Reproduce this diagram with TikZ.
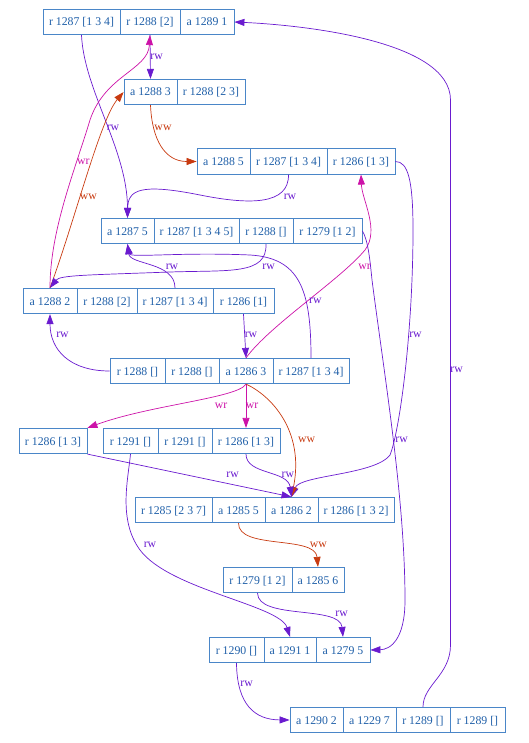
\documentclass[tikz,border=0pt]{standalone}
\usepackage{fontspec}
\setmainfont{Liberation Serif}
\usetikzlibrary{arrows.meta}
\definecolor{txtc}{HTML}{1F5FA8}
\definecolor{boxc}{HTML}{4A86C8}
\definecolor{rwc}{HTML}{6A1BCF}
\definecolor{wrc}{HTML}{CC12A8}
\definecolor{wwc}{HTML}{C83A10}
\tikzset{
  fld/.style={draw=boxc, line width=0.8pt, minimum height=25.4pt, inner sep=0pt,
    text=txtc, font=\fontsize{11.8}{14}\selectfont, text height=8pt, text depth=0pt},
  lbl/.style={inner sep=0pt, font=\fontsize{11.8}{14}\selectfont},
  erw/.style={draw=rwc, line width=0.7pt, -{Triangle[length=10pt,width=7pt]}},
  ewr/.style={draw=wrc, line width=0.7pt, -{Triangle[length=10pt,width=7pt]}},
  eww/.style={draw=wwc, line width=0.7pt, -{Triangle[length=10pt,width=7pt]}},
}
\newcommand\mkfld[5]{\node[fld, minimum width=#4pt] (#1) at (#2,#3) {#5};}
\begin{document}
\begin{tikzpicture}[x=1pt,y=-1pt]
\useasboundingbox (0,0) rectangle (528,743);
% A
\mkfld{A1}{81.5}{22}{77}{r 1287 [1 3 4]}
\mkfld{A2}{150}{22}{60}{r 1288 [2]}
\mkfld{A3}{207}{22}{54}{a 1289 1}
% B
\mkfld{B1}{150.5}{92}{53}{a 1288 3}
\mkfld{B2}{211}{92}{68}{r 1288 [2 3]}
% C
\mkfld{C1}{223.5}{161.5}{53}{a 1288 5}
\mkfld{C2}{288.5}{161.5}{77}{r 1287 [1 3 4]}
\mkfld{C3}{361}{161.5}{68}{r 1286 [1 3]}
% D
\mkfld{D1}{127.5}{231}{53}{a 1287 5}
\mkfld{D2}{196.5}{231}{85}{r 1287 [1 3 4 5]}
\mkfld{D3}{266}{231}{54}{r 1288 []}
\mkfld{D4}{327.5}{231}{69}{r 1279 [1 2]}
% E
\mkfld{E1}{50}{301}{54}{a 1288 2}
\mkfld{E2}{107}{301}{60}{r 1288 [2]}
\mkfld{E3}{175}{301}{76}{r 1287 [1 3 4]}
\mkfld{E4}{243.5}{301}{61}{r 1286 [1]}
% F
\mkfld{F1}{137.5}{371}{55}{r 1288 []}
\mkfld{F2}{192}{371}{54}{r 1288 []}
\mkfld{F3}{246}{371}{54}{a 1286 3}
\mkfld{F4}{311}{371}{76}{r 1287 [1 3 4]}
% G, H
\mkfld{G1}{53}{441}{68}{r 1286 [1 3]}
\mkfld{H1}{130.5}{441}{55}{r 1291 []}
\mkfld{H2}{185}{441}{54}{r 1291 []}
\mkfld{H3}{246}{441}{68}{r 1286 [1 3]}
% I
\mkfld{I1}{173.5}{510}{77}{r 1285 [2 3 7]}
\mkfld{I2}{238.5}{510}{53}{a 1285 5}
\mkfld{I3}{291.5}{510}{53}{a 1286 2}
\mkfld{I4}{356}{510}{76}{r 1286 [1 3 2]}
% J
\mkfld{J1}{257.5}{580}{69}{r 1279 [1 2]}
\mkfld{J2}{318}{580}{52}{a 1285 6}
% K
\mkfld{K1}{236.5}{650}{55}{r 1290 []}
\mkfld{K2}{290}{650}{52}{a 1291 1}
\mkfld{K3}{343}{650}{54}{a 1279 5}
% L
\mkfld{L1}{316.5}{720}{53}{a 1290 2}
\mkfld{L2}{369.5}{720}{53}{a 1229 7}
\mkfld{L3}{423}{720}{54}{r 1289 []}
\mkfld{L4}{477.5}{720}{55}{r 1289 []}

% edges
\draw[erw] (A1.south) .. controls (84,90) and (127.5,150) .. (D1.north);
\draw[erw] (A2.south) -- (B1.north);
\draw[eww] (B1.south) .. controls (152,140) and (165,161.5) .. (C1.west);
\draw[ewr] (E1.north) .. controls (50,230) and (75,170) .. (90,120) .. controls (105,75) and (148,70) .. (A2.south);
\draw[eww] (E1.north) .. controls (75,220) and (100,120) .. (B1.west);
\draw[erw] (C2.south) .. controls (289,205) and (250,205) .. (200,195) .. controls (140,183) and (128,190) .. (D1.north);
\draw[erw] (D3.south) .. controls (267,275) and (230,270) .. (170,272) .. controls (90,275) and (60,275) .. (E1.north);
\draw[erw] (E3.north) .. controls (175,262) and (130,265) .. (D1.south);
\draw[erw] (F4.north) .. controls (311,290) and (300,258) .. (250,255) .. controls (180,252) and (130,258) .. (D1.south);
\draw[ewr] (F3.north) .. controls (270,325) and (340,280) .. (365,250) .. controls (380,230) and (362,200) .. (C3.south);
\draw[erw] (C3.east) .. controls (408,161.5) and (413,180) .. (413,230) .. controls (413,330) and (400,430) .. (390,455) .. controls (375,475) and (300,475) .. (I3.north);
\draw[erw] (D4.east) .. controls (368,240) and (370,260) .. (372,280) .. controls (385,380) and (405,500) .. (405,600) .. controls (405,640) and (390,649.5) .. (K3.east);
\draw[erw] (L3.north) .. controls (423,685) and (450.5,675) .. (450.5,645) -- (450.5,100) .. controls (450.5,40) and (300,25) .. (A3.east);
\draw[erw] (E4.south) -- (F3.north);
\draw[erw] (F1.west) .. controls (70,371) and (50,350) .. (E1.south);
\draw[ewr] (F3.south) .. controls (238,398) and (150,405) .. (G1.north east);
\draw[ewr] (F3.south) -- (H3.north);
\draw[eww] (F3.south) .. controls (270,395) and (305,430) .. (I3.north);
\draw[erw] (G1.south east) -- (I3.north);
\draw[erw] (H3.south) .. controls (246,475) and (288,470) .. (I3.north);
\draw[erw] (H1.south) .. controls (128,480) and (118,520) .. (140,550) .. controls (170,590) and (280,605) .. (K2.north);
\draw[eww] (I2.south) .. controls (238,550) and (315,535) .. (J2.north);
\draw[erw] (J1.south) .. controls (258,620) and (340,605) .. (K3.north);
\draw[erw] (K1.south) .. controls (237,705) and (255,719.7) .. (L1.west);

% labels
\node[lbl, text=rwc] (l1) at (113,128) {rw};
\node[lbl, text=rwc] (l2) at (156.7,56.7) {rw};
\node[lbl, text=wwc] (l3) at (163,128) {ww};
\node[lbl, text=wrc] (l4) at (83.3,161.7) {wr};
\node[lbl, text=wwc] (l5) at (88.3,196.7) {ww};
\node[lbl, text=rwc] (l6) at (290,197) {rw};
\node[lbl, text=rwc] (l7) at (172,267) {rw};
\node[lbl, text=rwc] (l8) at (268.7,267) {rw};
\node[lbl, text=wrc] (l9) at (364.5,267) {wr};
\node[lbl, text=rwc] (l10) at (315.3,300.8) {rw};
\node[lbl, text=rwc] (l11) at (62.5,335) {rw};
\node[lbl, text=rwc] (l12) at (251,335) {rw};
\node[lbl, text=rwc] (l13) at (415.5,335) {rw};
\node[lbl, text=rwc] (l14) at (456.7,370) {rw};
\node[lbl, text=wrc] (l15) at (221,405.5) {wr};
\node[lbl, text=wrc] (l16) at (252,405.5) {wr};
\node[lbl, text=wwc] (l17) at (306.7,440) {ww};
\node[lbl, text=rwc] (l18) at (401.7,440) {rw};
\node[lbl, text=rwc] (l19) at (232.7,475) {rw};
\node[lbl, text=rwc] (l20) at (287.8,475) {rw};
\node[lbl, text=rwc] (l21) at (150,545) {rw};
\node[lbl, text=wwc] (l22) at (318.3,545) {ww};
\node[lbl, text=rwc] (l23) at (341.7,614) {rw};
\node[lbl, text=rwc] (l24) at (246.7,684) {rw};
\end{tikzpicture}
\end{document}
